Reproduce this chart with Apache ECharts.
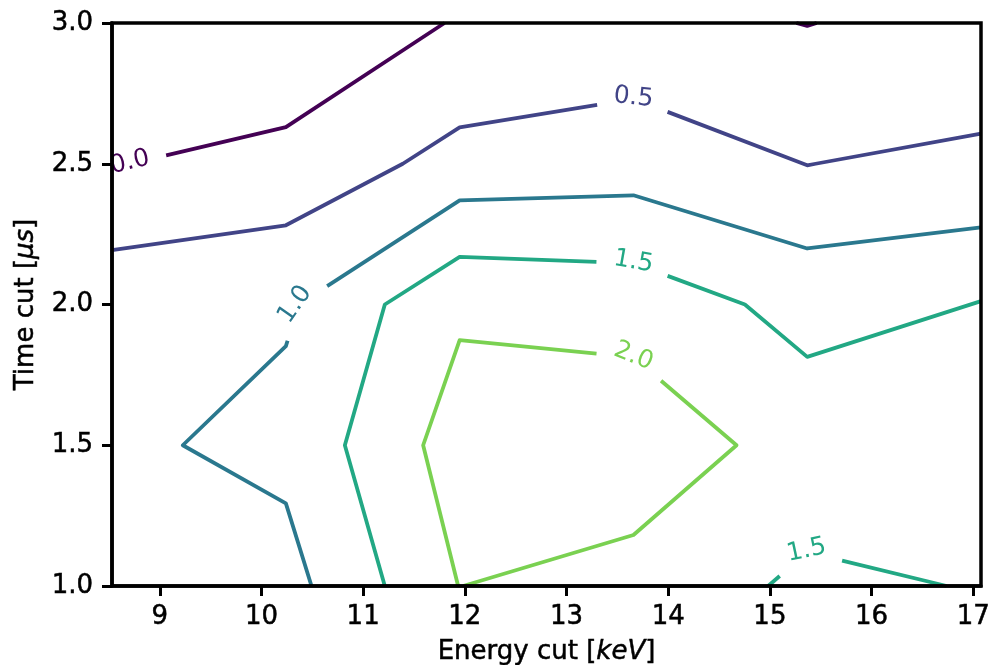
<!DOCTYPE html>
<html>
<head>
<meta charset="utf-8">
<title>Contour: time cut vs energy cut</title>
<script src="https://cdn.jsdelivr.net/npm/echarts@6/dist/echarts.min.js"></script>
<style>
  html, body { margin: 0; padding: 0; background: #fff; }
  #chart { width: 991px; height: 665px; }
</style>
</head>
<body>
<div id="chart"></div>
<script>
// Contour levels and their viridis colours
const levels = ['0.0', '0.5', '1.0', '1.5', '2.0'];
const levelColors = ['#440154', '#414487', '#2a788e', '#22a884', '#7ad151'];

// Axis ranges and tick labels
const energyRange = [8.53, 17.076];
const timeRange = [1.0, 3.0];
const energyTicks = [9, 10, 11, 12, 13, 14, 15, 16, 17];

// Contour paths: [energy cut (keV), time cut (µs)]
const contour00a = [[8.53, 2.484], [10.24, 2.63], [11.80, 3.0]];
const contour00b = [[15.26, 3.0], [15.367, 2.99], [15.46, 3.0]];
const contour05 = [[8.53, 2.193], [10.24, 2.2815], [11.39, 2.5], [11.949, 2.629],
                   [13.658, 2.7306], [15.367, 2.4945], [15.45, 2.5], [17.076, 2.607]];
const contour10 = [[10.492, 1.0], [10.24, 1.2936], [9.226, 1.5], [10.24, 1.852],
                   [10.367, 2.0], [11.949, 2.37], [13.658, 2.388], [15.367, 2.199], [17.076, 2.274]];
const contour15a = [[11.213, 1.0], [10.82, 1.5], [11.213, 2.0], [11.949, 2.169],
                    [13.658, 2.1466], [14.754, 2.0], [15.367, 1.814], [17.076, 2.012]];
const contour15b = [[14.983, 1.0], [15.367, 1.12], [16.738, 1.0]];
const contour20 = [[11.934, 1.0], [11.59, 1.5], [11.949, 1.8733], [13.658, 1.813],
                   [14.672, 1.5], [13.658, 1.181], [11.983, 1.0]];

// Which level each path belongs to
const contourPaths = [
  { level: 0, points: contour00a },
  { level: 0, points: contour00b },
  { level: 1, points: contour05 },
  { level: 2, points: contour10 },
  { level: 3, points: contour15a },
  { level: 3, points: contour15b },
  { level: 4, points: contour20 }
];

// Inline level labels: anchor in data space, text angle in degrees
const inlineLabels = [
  { level: 0, at: [8.705, 2.505], angle: 13 },
  { level: 1, at: [13.658, 2.735], angle: -6 },
  { level: 2, at: [10.33, 2.0], angle: 55 },
  { level: 3, at: [13.658, 2.152], angle: -10 },
  { level: 4, at: [13.658, 1.8165], angle: -22 },
  { level: 3, at: [15.36, 1.126], angle: 12 }
];

const FONT = '"DejaVu Sans", "Noto Sans", sans-serif';
const AXIS_FONT_SIZE = 26;
const LABEL_FONT_SIZE = 25;
const LINE_WIDTH = 3.8;
const LABEL_GAP = 37; // radius of the break left in a line around its label (px)

const chart = echarts.init(document.getElementById('chart'), null, { renderer: 'canvas' });

const axisText = {
  color: '#000', fontSize: AXIS_FONT_SIZE, fontFamily: FONT,
  textBorderColor: '#000', textBorderWidth: 0.5
};

const baseOption = {
  animation: false,
  backgroundColor: '#fff',
  grid: {
    left: 112, right: 10, top: 23, bottom: 79,
    show: true, borderColor: '#000', borderWidth: 3.5, z: 10,
    outerBoundsMode: 'none'
  },
  xAxis: {
    type: 'value',
    min: energyRange[0], max: energyRange[1],
    z: 10,
    axisLine: { show: true, lineStyle: { color: '#000', width: 3.5 } },
    axisTick: { show: true, length: 10, customValues: energyTicks, lineStyle: { color: '#000', width: 3 } },
    axisLabel: Object.assign({ customValues: energyTicks, margin: 18 }, axisText),
    splitLine: { show: false },
    name: 'Energy cut [{i|keV}]',
    nameLocation: 'middle',
    nameGap: 53,
    nameTextStyle: Object.assign({
      rich: { i: Object.assign({ fontStyle: 'italic' }, axisText) }
    }, axisText)
  },
  yAxis: {
    type: 'value',
    min: timeRange[0], max: timeRange[1], interval: 0.5,
    z: 10,
    axisLine: { show: true, lineStyle: { color: '#000', width: 3.5 } },
    axisTick: { show: true, length: 10, lineStyle: { color: '#000', width: 3 } },
    axisLabel: Object.assign({ margin: 19, formatter: v => v.toFixed(1) }, axisText),
    splitLine: { show: false },
    name: 'Time cut [{i|μs}]',
    nameLocation: 'middle',
    nameGap: 73,
    nameTextStyle: Object.assign({
      rich: { i: Object.assign({ fontStyle: 'italic' }, axisText) }
    }, axisText)
  },
  series: []
};
chart.setOption(baseOption);

const toPx = p => chart.convertToPixel({ gridIndex: 0 }, p);
const toData = p => chart.convertFromPixel({ gridIndex: 0 }, p);

// Remove the parts of a set of pixel polylines that fall inside a circle
function cutByCircle(lines, c, r) {
  const out = [];
  for (const line of lines) {
    let cur = [];
    for (let i = 0; i < line.length - 1; i++) {
      const a = line[i], b = line[i + 1];
      const dx = b[0] - a[0], dy = b[1] - a[1];
      const fx = a[0] - c[0], fy = a[1] - c[1];
      const A = dx * dx + dy * dy, B = 2 * (fx * dx + fy * dy), C = fx * fx + fy * fy - r * r;
      const disc = B * B - 4 * A * C;
      let inStart = 1, inEnd = 0;
      if (disc > 0 && A > 0) {
        const s = Math.sqrt(disc);
        inStart = Math.max(0, (-B - s) / (2 * A));
        inEnd = Math.min(1, (-B + s) / (2 * A));
      }
      const P = t => [a[0] + t * dx, a[1] + t * dy];
      if (inStart >= inEnd) {
        if (!cur.length) cur.push(a);
        cur.push(b);
      } else {
        if (inStart > 0) { if (!cur.length) cur.push(a); cur.push(P(inStart)); }
        if (cur.length > 1) out.push(cur);
        cur = [];
        if (inEnd < 1) { cur.push(P(inEnd)); cur.push(b); }
      }
    }
    if (cur.length > 1) out.push(cur);
  }
  return out;
}

// Build one line series per visible contour piece
const series = [];
contourPaths.forEach(path => {
  let pieces = [path.points.map(toPx)];
  inlineLabels.filter(l => l.level === path.level).forEach(l => {
    pieces = cutByCircle(pieces, toPx(l.at), LABEL_GAP);
  });
  pieces.forEach(piece => {
    series.push({
      type: 'line',
      data: piece.map(toData),
      showSymbol: false,
      symbol: 'none',
      clip: true,
      z: 2,
      silent: true,
      lineStyle: { color: levelColors[path.level], width: LINE_WIDTH, join: 'round', cap: 'butt' }
    });
  });
});

// Level labels drawn in the line colour along the contours
const graphics = inlineLabels.map(l => {
  const p = toPx(l.at);
  return {
    type: 'text',
    x: p[0], y: p[1],
    rotation: l.angle * Math.PI / 180,
    z: 5,
    silent: true,
    style: {
      text: levels[l.level],
      fill: levelColors[l.level],
      fontSize: LABEL_FONT_SIZE,
      fontFamily: FONT,
      align: 'center',
      verticalAlign: 'middle',
      textAlign: 'center',
      textVerticalAlign: 'middle'
    }
  };
});

chart.setOption({ series: series, graphic: graphics });
</script>
</body>
</html>
